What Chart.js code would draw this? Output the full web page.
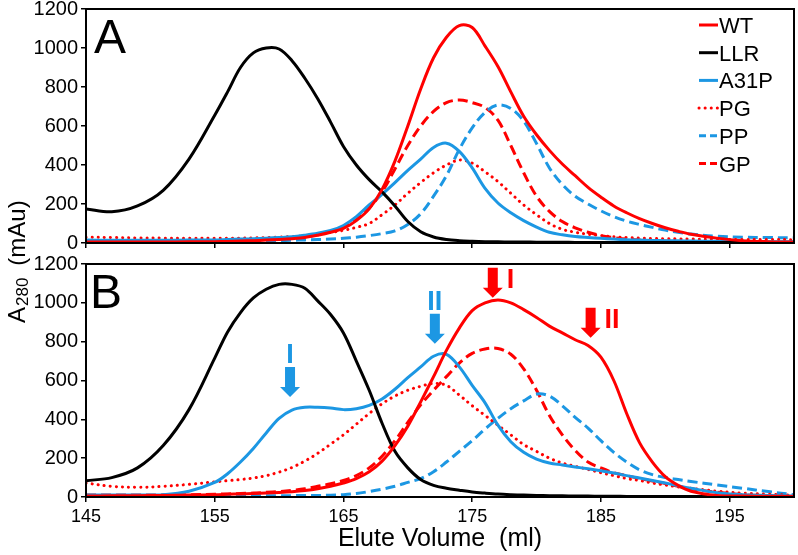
<!DOCTYPE html>
<html><head><meta charset="utf-8">
<script src="https://cdn.jsdelivr.net/npm/chart.js@4.4.1/dist/chart.umd.min.js"></script>
<style>
html,body{margin:0;padding:0;background:#fff;overflow:hidden;width:798px;height:555px;}
#wrap{position:relative;width:798px;height:555px;}
canvas{position:absolute;left:0;}
#cA{top:-10px;width:798px;height:565px;}
#cB{top:0;width:798px;height:555px;}
</style></head><body>
<div id="wrap"><canvas id="cA" width="798" height="565"></canvas><canvas id="cB" width="798" height="555"></canvas></div>
<script>
// ---------- data ----------
const volume = [145,147,149,151,153,
  155,156,157,158,159,160,161,162,163,164,
  165,166,167,168,169,170,171,172,173,174,
  175,176,177,178,179,180,181,182,183,184,
  185,186,187,188,189,190,191,192,
  194,196,198,200];
const xTickValues = [145,155,165,175,185,195];
const yTickValues = [0,200,400,600,800,1000,1200];
const seriesNames = ['WT','LLR','A31P','PG','PP','GP'];

// Panel A
const WT_A = [5,5,5,5,6,
  7,8,10,12,15,18,22,28,40,55,
  75,115,175,275,420,600,790,950,1055,1115,
  1105,1010,905,775,650,555,475,405,345,285,
  235,190,155,125,100,78,60,45,
  25,12,7,5];
const LLR_A = [175,160,190,270,430,
  655,775,900,975,1000,995,935,845,740,620,
  495,400,325,262,190,110,58,31,18,12,
  9,7,6,5,5,4,4,4,3,3,
  3,3,3,3,3,3,3,3,
  3,3,3,3];
const A31P_A = [15,14,14,14,15,
  16,18,20,22,25,28,32,40,50,64,
  90,135,195,250,310,372,430,490,512,470,
  385,280,205,155,115,82,55,42,33,28,
  24,20,17,15,13,12,11,10,
  9,8,7,7];
const PG_A = [30,28,26,25,24,
  24,24,25,26,28,30,33,37,44,54,
  65,80,100,145,195,255,310,360,400,425,
  410,365,315,255,195,145,100,70,55,45,
  38,32,28,25,23,22,21,20,
  19,18,18,17];
const PP_A = [10,10,10,10,10,
  10,10,10,11,12,13,14,16,18,20,
  24,30,38,48,62,95,150,240,345,480,
  590,670,708,690,625,510,385,300,240,200,
  165,135,112,95,80,66,55,46,
  35,30,28,27];
const GP_A = [6,6,6,7,7,
  8,10,12,14,17,20,25,32,42,58,
  85,120,180,262,380,500,600,675,720,733,
  720,695,630,500,360,240,162,110,78,55,
  38,28,20,15,12,10,8,7,
  5,4,3,3];

// Panel B
const WT_B = [5,6,7,8,10,
  12,14,16,18,20,23,27,33,42,55,
  72,95,130,185,265,365,490,620,755,870,
  960,1000,1015,1000,965,925,880,845,810,780,
  720,600,430,280,180,105,60,30,
  8,5,4,3];
const LLR_B = [84,100,150,265,450,
  715,850,950,1025,1070,1095,1095,1075,1010,940,
  845,700,550,380,235,150,90,60,45,35,
  26,20,15,12,10,8,7,6,5,5,
  4,4,3,3,3,3,3,3,
  2,2,2,2];
const A31P_B = [10,10,10,12,30,
  75,120,180,250,330,405,448,462,462,458,
  450,455,472,505,555,615,670,725,735,670,
  575,485,370,285,230,195,175,165,155,145,
  135,124,110,98,85,72,58,45,
  22,12,8,5];
const PG_B = [72,55,50,55,65,
  78,84,90,98,110,128,152,185,225,272,
  320,375,430,480,520,550,570,585,575,525,
  470,420,370,320,270,235,200,175,158,142,
  125,110,95,85,72,62,52,45,
  30,20,14,10];
const PP_B = [3,3,3,3,4,
  4,5,5,6,6,7,7,8,8,9,
  12,18,28,40,55,75,95,130,180,235,
  290,350,405,455,495,530,520,470,410,355,
  290,230,180,140,115,100,90,80,
  62,45,28,12];
const GP_B = [10,10,10,11,12,
  14,16,18,20,24,28,34,42,55,68,
  85,110,150,210,290,385,475,550,620,690,
  740,762,765,735,660,550,420,320,240,180,
  150,125,110,95,82,70,55,42,
  25,12,7,5];

// Peak arrows in panel B
const arrowVolume = [160.85, 172.1, 176.6, 184.2];
const arrowValue  = [515, 789, 1026, 820];
const arrowText   = ['I', 'II', 'I', 'II'];
const arrowSeries = ['A31P', 'A31P', 'WT', 'WT'];

// ---------- styles ----------
const RED = '#FF0000', BLUE = '#1C97E3', BLACK = '#000000';
const FONT = '"Liberation Sans", Arial, Helvetica, sans-serif';
const styleOf = {
  WT:   {color: RED,   dash: [],      cap: 'butt'},
  LLR:  {color: BLACK, dash: [],      cap: 'butt'},
  A31P: {color: BLUE,  dash: [],      cap: 'butt'},
  PG:   {color: RED,   dash: [0.1,6], cap: 'round'},
  PP:   {color: BLUE,  dash: [10,5],  cap: 'butt'},
  GP:   {color: RED,   dash: [10,5],  cap: 'butt'}
};

function makeDatasets(valuesByName) {
  return seriesNames.map(name => ({
    label: name,
    data: volume.map((v, i) => ({x: v, y: valuesByName[name][i]})),
    borderColor: styleOf[name].color,
    borderDash: styleOf[name].dash,
    borderCapStyle: styleOf[name].cap,
    borderJoinStyle: 'round',
    borderWidth: 3,
    pointRadius: 0,
    fill: false,
    tension: 0.35
  }));
}

const decor = {
  id: 'decor',
  afterDatasetsDraw(chart, args, opts) {
    const ctx = chart.ctx, ca = chart.chartArea;
    const xs = chart.scales.x, ys = chart.scales.y;
    ctx.save();
    ctx.strokeStyle = BLACK; ctx.lineWidth = 2; ctx.setLineDash([]);
    ctx.strokeRect(ca.left, ca.top, ca.right - ca.left, ca.bottom - ca.top);
    // panel letter
    ctx.fillStyle = BLACK;
    ctx.font = '48px ' + FONT;
    ctx.textAlign = 'left'; ctx.textBaseline = 'alphabetic';
    ctx.fillText(opts.letter, ca.left + opts.letterDx, ca.top + 44);
    // legend
    if (opts.legend) {
      seriesNames.forEach((name, i) => {
        const y = ca.top + 16 + i * 27.7;
        const st = styleOf[name];
        ctx.strokeStyle = st.color; ctx.lineWidth = 3;
        ctx.lineCap = st.cap;
        ctx.setLineDash(st.dash.length && st.dash[0] > 1 ? [7,4] : st.dash);
        ctx.beginPath(); ctx.moveTo(ca.right - 95, y); ctx.lineTo(ca.right - 76, y); ctx.stroke();
        ctx.setLineDash([]); ctx.lineCap = 'butt';
        ctx.fillStyle = BLACK; ctx.font = '22px ' + FONT;
        ctx.textBaseline = 'middle'; ctx.textAlign = 'left';
        ctx.fillText(name, ca.right - 75, y + 2);
      });
    }
    // arrows
    if (opts.arrows) {
      arrowVolume.forEach((v, i) => {
        const cx = xs.getPixelForValue(v), tip = ys.getPixelForValue(arrowValue[i]);
        const col = styleOf[arrowSeries[i]].color;
        ctx.fillStyle = col;
        ctx.beginPath();
        ctx.moveTo(cx - 5, tip - 30); ctx.lineTo(cx + 5, tip - 30);
        ctx.lineTo(cx + 5, tip - 10); ctx.lineTo(cx + 10, tip - 10);
        ctx.lineTo(cx, tip); ctx.lineTo(cx - 10, tip - 10);
        ctx.lineTo(cx - 5, tip - 10); ctx.closePath(); ctx.fill();
        ctx.font = 'bold 27px ' + FONT;
        ctx.textBaseline = 'alphabetic';
        if (arrowSeries[i] === 'A31P') {
          ctx.textAlign = 'center';
          ctx.fillText(arrowText[i], cx, tip - 34);
        } else {
          ctx.textAlign = 'left';
          ctx.fillText(arrowText[i], cx + 14, tip - 10);
        }
      });
    }
    // shared y-axis title
    if (opts.yTitle) {
      ctx.fillStyle = BLACK;
      ctx.translate(25, 323);
      ctx.rotate(-Math.PI / 2);
      ctx.textAlign = 'left'; ctx.textBaseline = 'alphabetic';
      ctx.font = '24px ' + FONT;
      ctx.fillText('A', 0, 0);
      let x = ctx.measureText('A').width + 1;
      ctx.font = '17px ' + FONT;
      ctx.fillText('280', x, 3);
      x += ctx.measureText('280').width + 12;
      ctx.font = '24px ' + FONT;
      ctx.fillText('(mAu)', x, 0);
    }
    ctx.restore();
  }
};

function makeOptions(panel) {
  const isA = panel === 'A';
  const tickGrid = {drawOnChartArea: false, drawTicks: true, tickLength: 5, color: BLACK, lineWidth: 1.5};
  return {
    responsive: false, animation: false, devicePixelRatio: 1,
    layout: {padding: {left: 0, right: 4, top: isA ? 19 : 264, bottom: isA ? 302 : 0}},
    plugins: {
      legend: {display: false}, tooltip: {enabled: false},
      decor: {letter: panel, letterDx: isA ? 8 : 4, legend: isA, arrows: !isA, yTitle: !isA}
    },
    scales: {
      x: {
        type: 'linear', min: 145, max: 200,
        afterBuildTicks: s => { s.ticks = xTickValues.map(v => ({value: v})); },
        afterFit: s => { s.height = isA ? 10 : 58; },
        border: {display: false},
        grid: tickGrid,
        ticks: {display: !isA, color: BLACK, font: {family: FONT, size: 18}, padding: 4,
                maxRotation: 0, autoSkip: false, callback: v => String(v)},
        title: {display: !isA, text: 'Elute Volume  (ml)', color: BLACK,
                font: {family: FONT, size: 25}, padding: {top: 0, bottom: 1}}
      },
      y: {
        type: 'linear', min: 0, max: 1200,
        afterBuildTicks: s => { s.ticks = yTickValues.map(v => ({value: v})); },
        afterFit: s => { s.width = 86; },
        border: {display: false},
        grid: tickGrid,
        ticks: {color: BLACK, font: {family: FONT, size: 20}, padding: 3, callback: v => String(v)}
      }
    }
  };
}

new Chart(document.getElementById('cA'), {
  type: 'line',
  data: {datasets: makeDatasets({WT: WT_A, LLR: LLR_A, A31P: A31P_A, PG: PG_A, PP: PP_A, GP: GP_A})},
  options: makeOptions('A'),
  plugins: [decor]
});
new Chart(document.getElementById('cB'), {
  type: 'line',
  data: {datasets: makeDatasets({WT: WT_B, LLR: LLR_B, A31P: A31P_B, PG: PG_B, PP: PP_B, GP: GP_B})},
  options: makeOptions('B'),
  plugins: [decor]
});
</script>
</body></html>
